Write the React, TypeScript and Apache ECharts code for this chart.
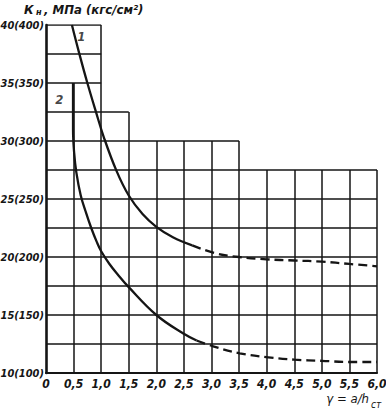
import React, { useEffect, useRef } from "react";
import * as echarts from "echarts";

// Curve values: [γ, Kн (МПа)]
const curve1Solid: number[][] = [
  [0.47, 40], [0.6, 37.6], [0.75, 35.0], [0.9, 32.6], [1.05, 30.3], [1.28, 27.4],
  [1.5, 25.3], [1.75, 23.7], [2.0, 22.6], [2.3, 21.7], [2.65, 21.0],
];
const curve1Dashed: number[][] = [
  [2.65, 21.0], [3.09, 20.3], [3.5, 20.0], [4.0, 19.8], [4.5, 19.7], [5.0, 19.6],
  [5.5, 19.4], [6.0, 19.2],
];
const curve2Solid: number[][] = [
  [0.49, 35], [0.49, 31], [0.51, 29], [0.55, 27.3], [0.63, 25.3], [0.72, 23.9],
  [0.82, 22.5], [0.92, 21.3], [1.0, 20.5], [1.15, 19.4], [1.3, 18.5], [1.5, 17.4],
  [2.0, 15.0], [2.49, 13.4], [2.73, 12.8],
];
const curve2Dashed: number[][] = [
  [2.73, 12.8], [3.03, 12.3], [3.51, 11.7], [4.03, 11.35], [4.5, 11.15], [5.0, 11.05],
  [5.5, 10.95], [6.0, 10.95],
];

// Stepped grid: vertical lines [x, top value], horizontal lines [y, right end x]
const gridVerticals: number[][] = [
  [0.5, 35], [1.0, 40], [1.5, 32.5], [2.0, 30], [2.5, 30], [3.0, 30], [3.5, 30],
  [4.0, 27.5], [4.5, 27.5], [5.0, 27.5], [5.5, 27.5], [6.0, 27.5],
];
const gridHorizontals: number[][] = [
  [40, 1.0], [37.5, 1.0], [35, 1.0], [32.5, 1.5], [30, 3.5], [27.5, 6], [25, 6],
  [22.5, 6], [20, 6], [17.5, 6], [15, 6], [12.5, 6],
];

const curveLabels = [
  { name: "1", value: [0.64, 39.0] },
  { name: "2", value: [0.24, 33.6] },
];

const xMin = 0, xMax = 6, xStep = 0.5;
const yMin = 10, yMax = 40, yStep = 5;

const FONT = "'DejaVu Sans Condensed', 'Liberation Sans Narrow', sans-serif";
const INK = "#151515";

export default function App() {
  const ref = useRef<HTMLDivElement>(null);
  useEffect(() => {
    if (!ref.current) return;
    const chart = echarts.init(ref.current, undefined, { renderer: "svg" });
    const gridLines = [
      ...gridVerticals.map(([x, top]) => ({ coords: [[x, yMin], [x, top]] })),
      ...gridHorizontals.map(([y, right]) => ({ coords: [[xMin, y], [right, y]] })),
    ];
    const curveStyle = { color: INK, width: 2.3 };
    const txt = { fontFamily: FONT, fontStyle: "italic", fontWeight: "bold", fill: INK };
    const curve = (data: number[][], dashed: boolean) => ({
      type: "line", data, smooth: 0.4, symbol: "none", z: 3,
      lineStyle: dashed ? { ...curveStyle, type: [9, 5] } : curveStyle,
    });
    chart.setOption({
      animation: false,
      backgroundColor: "#fff",
      grid: { left: 46, right: 9, top: 25, bottom: 41, containLabel: false, outerBoundsMode: "none" },
      xAxis: {
        type: "value", min: xMin, max: xMax, interval: xStep,
        axisLine: { show: true, lineStyle: { color: INK, width: 2.2 } },
        axisTick: { show: false }, splitLine: { show: false },
        axisLabel: {
          color: INK, fontFamily: FONT, fontSize: 12, fontStyle: "italic", fontWeight: "bold", margin: 5,
          formatter: (v: number) => (v === 0 ? "0" : v.toFixed(1).replace(".", ",")),
        },
      },
      yAxis: {
        type: "value", min: yMin, max: yMax, interval: yStep,
        axisLine: { show: true, lineStyle: { color: INK, width: 2.6 } },
        axisTick: { show: false }, splitLine: { show: false },
        axisLabel: {
          color: INK, fontFamily: FONT, fontSize: 11, fontStyle: "italic", fontWeight: "bold", margin: 2,
          formatter: (v: number) => `${v}(${v * 10})`,
        },
      },
      graphic: [
        { type: "text", x: 24, y: 3, style: { ...txt, text: "К", fontSize: 13 } },
        { type: "text", x: 36, y: 7, style: { ...txt, text: "н", fontSize: 9 } },
        { type: "text", x: 44, y: 3, style: { ...txt, text: ", МПа (кгс/см²)", fontSize: 13 } },
        { type: "text", x: 369, y: 392, style: { ...txt, fontWeight: "normal", text: "γ = a/h", fontSize: 13, align: "right", textAlign: "right" } },
        { type: "text", x: 371, y: 399, style: { ...txt, fontWeight: "normal", text: "ст", fontSize: 10 } },
      ],
      series: [
        {
          type: "lines", coordinateSystem: "cartesian2d", polyline: false, silent: true,
          lineStyle: { color: INK, width: 1.5, opacity: 1 }, data: gridLines, z: 1,
        },
        curve(curve1Solid, false),
        curve(curve1Dashed, true),
        curve(curve2Solid, false),
        curve(curve2Dashed, true),
        {
          type: "scatter", data: curveLabels, symbolSize: 0, z: 4,
          label: {
            show: true, position: "inside", formatter: "{b}", color: INK,
            fontFamily: FONT, fontSize: 13, fontStyle: "italic", fontWeight: "bold",
          },
        },
      ],
    });
    return () => chart.dispose();
  }, []);
  return (
    <div
      ref={ref}
      style={{ position: "absolute", left: 0, top: 0, width: 386, height: 414, background: "#fff" }}
    />
  );
}
